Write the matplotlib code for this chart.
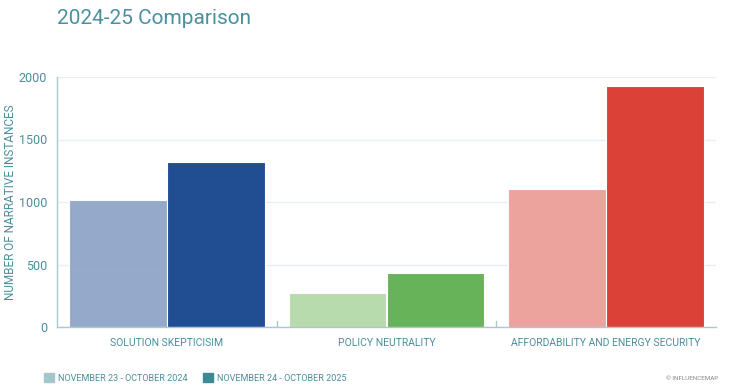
import matplotlib
matplotlib.use("Agg")
import matplotlib.pyplot as plt
import matplotlib.patches as mpatches
import numpy as np

categories = ["SOLUTION SKEPTICISIM", "POLICY NEUTRALITY", "AFFORDABILITY AND ENERGY SECURITY"]
period_labels = ["NOVEMBER 23 - OCTOBER 2024", "NOVEMBER 24 - OCTOBER 2025"]
values_2024 = [1020, 272, 1105]
values_2025 = [1321, 431, 1931]
yticks = [0, 500, 1000, 1500, 2000]

LIGHT = ["#8FA5C8", "#B3D9A8", "#EB9E98"]
DARK = ["#214E93", "#67B35A", "#DB4137"]
TEXT = "#4A8E9C"
AXIS = "#A9C9D1"

plt.rcParams["font.family"] = ["Roboto", "DejaVu Sans"]

fig = plt.figure(figsize=(7.49, 3.86), dpi=100)
ax = fig.add_axes([57 / 749, 1 - 327 / 386, 659 / 749, 250 / 386])

x = np.arange(len(categories))
w = 0.445
ax.bar(x - w / 2, values_2024, width=w, color=LIGHT, edgecolor="white", linewidth=0.8, zorder=2, alpha=0.95)
ax.bar(x + w / 2, values_2025, width=w, color=DARK, edgecolor="white", linewidth=0.8, zorder=2)

ax.set_xlim(-0.5, len(categories) - 0.5)
ax.set_ylim(0, 2000)
ax.set_yticks(yticks)
ax.set_yticklabels([str(t) for t in yticks], color=TEXT, fontsize=9)
ax.grid(axis="y", color="#E6EFF1", linewidth=1, zorder=0)
ax.set_axisbelow(True)

ax.set_xticks(x)
ax.set_xticklabels(categories, color=TEXT, fontsize=7.5)
ax.tick_params(axis="x", length=0, pad=8)
ax.tick_params(axis="y", length=0, pad=7)
for b in [0.5, 1.5]:
    ax.plot([b, b], [0, 45], color=AXIS, linewidth=1, zorder=1)

for s in ["top", "right"]:
    ax.spines[s].set_visible(False)
for s in ["left", "bottom"]:
    ax.spines[s].set_color(AXIS)
    ax.spines[s].set_linewidth(1)

ax.set_ylabel("NUMBER OF NARRATIVE INSTANCES", color=TEXT, fontsize=8.5)
ax.yaxis.set_label_coords(-40 / 659, 0.5)

fig.text(57 / 749, 1 - 18 / 386, "2024-25 Comparison", color="#4A90A0", fontsize=15,
         ha="left", va="center")

handles = [mpatches.Patch(color="#A5C5CC", label=period_labels[0]),
           mpatches.Patch(color="#3D8A97", label=period_labels[1])]
fig.legend(handles=handles, loc="center left", bbox_to_anchor=(36 / 749, 1 - 378 / 386),
           ncol=2, frameon=False, fontsize=6.5, labelcolor=TEXT, handlelength=1.1,
           handleheight=1.1, handletextpad=0.4, columnspacing=1.8)

fig.text(718 / 749, 1 - 378 / 386, "© INFLUENCEMAP", color="#888888", fontsize=4.5,
         ha="right", va="center")

fig.savefig("out.png", dpi=100, facecolor="white")
